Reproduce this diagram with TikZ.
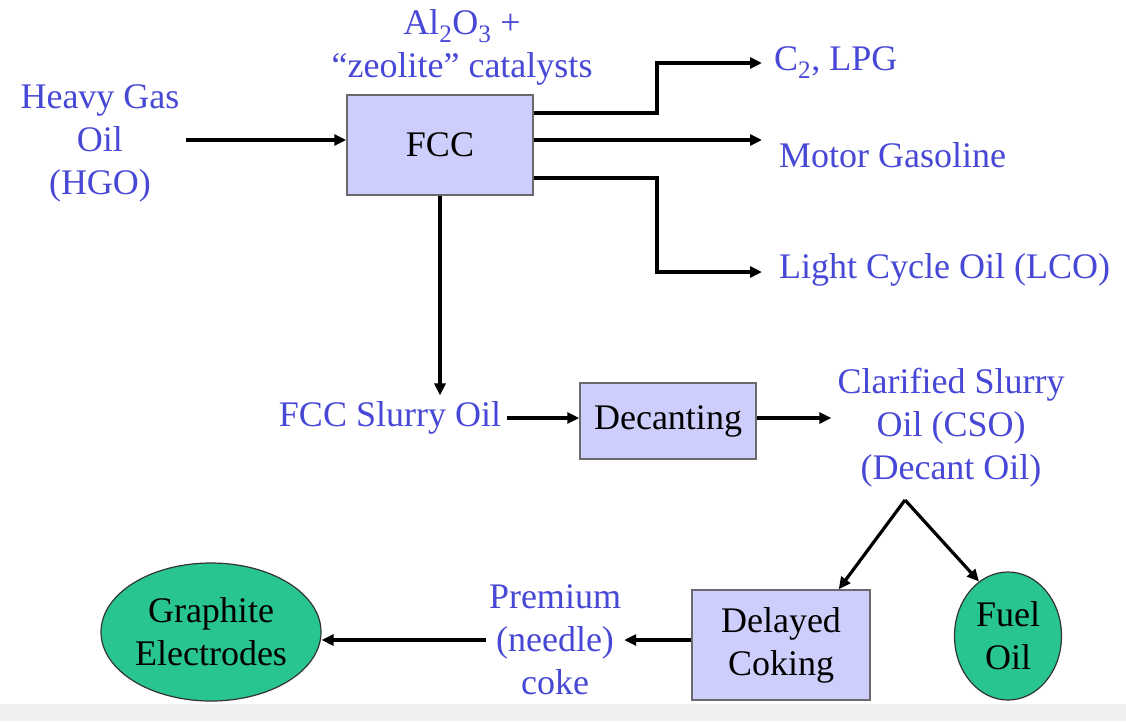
\documentclass[tikz,border=0pt]{standalone}
\usepackage{fontspec}
\setmainfont{Liberation Serif}
\usetikzlibrary{arrows.meta,shapes.geometric,calc}
\definecolor{txtblue}{RGB}{72,72,215}
\definecolor{boxfill}{RGB}{206,206,252}
\definecolor{boxline}{RGB}{105,105,110}
\definecolor{greenfill}{RGB}{40,196,146}
\definecolor{stripgray}{RGB}{240,240,242}
\begin{document}
\begin{tikzpicture}[x=1pt,y=-1pt,
  every node/.style={font=\fontsize{36}{43}\selectfont},
  lbl/.style={text=txtblue, align=center, inner sep=6pt},
  proc/.style={draw=boxline, fill=boxfill, line width=1.5pt, align=center},
  prod/.style={ellipse, draw=black!80, fill=greenfill, line width=1.2pt, align=center, inner sep=0pt},
  arr/.style={line width=3.2pt, -{Triangle[length=12pt,width=11pt]}},
  ln/.style={line width=3.2pt}]
\useasboundingbox (0,0) rectangle (1126,721);
\fill[white] (0,0) rectangle (1126,721);
\fill[stripgray] (0,704) rectangle (1126,721);

% nodes
\node[proc, minimum width=186pt, minimum height=100pt] (fcc) at (440,145) {FCC};
\node[lbl] (cat) at (462,47) {Al\textsubscript{2}O\textsubscript{3} +\\``zeolite'' catalysts};
\node[lbl] (hgo) at (100,143) {Heavy Gas\\Oil\\(HGO)};
\node[lbl, anchor=west, inner sep=0pt] (c2) at (774,63) {C\textsubscript{2}, LPG};
\node[lbl, anchor=west, inner sep=0pt] (mg) at (779,155) {Motor Gasoline};
\node[lbl, anchor=west, inner sep=0pt] (lco) at (779,270) {Light Cycle Oil (LCO)};
\node[lbl] (slurry) at (390,418) {FCC Slurry Oil};
\node[proc, minimum width=176pt, minimum height=76pt] (dec) at (668,421) {Decanting};
\node[lbl] (cso) at (951,428) {Clarified Slurry\\Oil (CSO)\\(Decant Oil)};
\node[proc, minimum width=178pt, minimum height=110pt] (dc) at (781,645) {Delayed\\Coking};
\node[prod, minimum width=107pt, minimum height=128pt] (fuel) at (1008,636) {Fuel\\Oil};
\node[prod, minimum width=220pt, minimum height=138pt] (gr) at (211,632) {Graphite\\Electrodes};
\node[lbl, inner sep=3pt] (prem) at (555,640) {Premium\\(needle)\\coke};

\coordinate (c2in) at (762,63);
\coordinate (mgin) at (762,140);
\coordinate (lcoin) at (762,272);
\coordinate (split) at (905,500);

% connectors
\draw[arr] (hgo.east |- 0,140) -- (fcc.west |- 0,140);
\draw[arr] (fcc.east |- 0,113) -- (657,113) -- (657,63) -- (c2in);
\draw[arr] (fcc.east |- 0,140) -- (mgin);
\draw[arr] (fcc.east |- 0,178) -- (657,178) -- (657,272) -- (lcoin);
\draw[arr] (fcc.south) -- (fcc.south |- slurry.north);
\draw[arr] (slurry.east) -- (dec.west |- slurry.east);
\draw[arr] (dec.east |- slurry.east) -- (cso.west |- slurry.east);
\draw[arr] (split) -- ([xshift=-32pt]dc.north east);
\draw[arr] (split) -- (fuel.118);
\draw[arr] (dc.west |- prem) -- (prem.east);
\draw[arr] (prem.west) -- (prem.west -| gr.east);
\end{tikzpicture}
\end{document}
